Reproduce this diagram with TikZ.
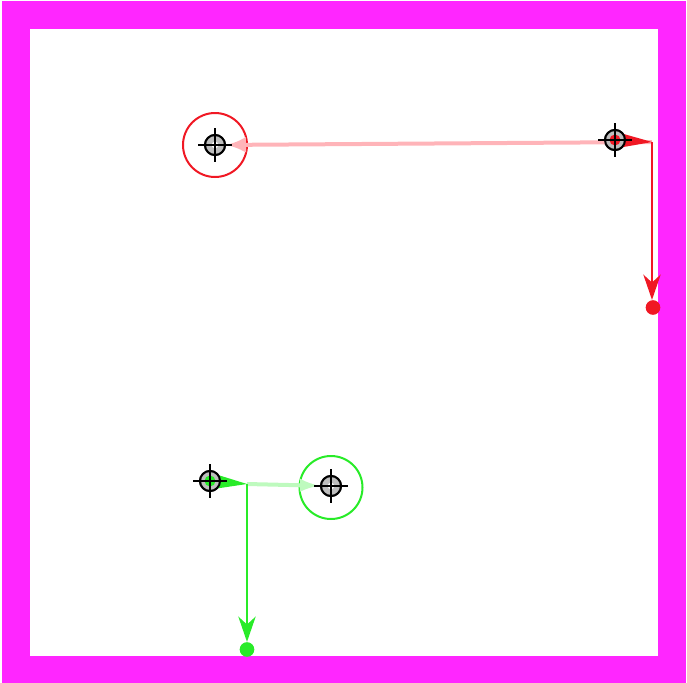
\documentclass[tikz,border=0pt]{standalone}
\usetikzlibrary{arrows.meta,calc}

\tikzset{
  target/.style={circle,draw=black,line width=1.5pt,fill={rgb,255:red,190;green,190;blue,190},minimum size=15pt,inner sep=0pt},
  hair/.style={draw=black,line width=1.5pt},
  enddot/.style={circle,inner sep=0pt,minimum size=11pt}
}

\begin{document}
\begin{tikzpicture}[x=0.75pt,y=0.75pt,yscale=-1,xscale=1]
\useasboundingbox (0,0) rectangle (687,683);

%Shape: Frame
\draw [color={rgb, 255:red, 255; green, 38; blue, 255 }, line width=21pt] (16,14.5) rectangle (672,669.5);

% positions
\coordinate (rgoal) at (215,145);
\coordinate (rstart) at (615,140);
\coordinate (rturn) at (652,142);
\coordinate (ggoal) at (331,486);
\coordinate (gstart) at (210,481);
\coordinate (gturn) at (247,484);

%Shape: Circle (red goal)
\draw [color={rgb, 255:red, 240; green, 24; blue, 36 }, line width=1.5pt] (rgoal) circle [radius=32];
%Shape: Circle (green goal)
\draw [color={rgb, 255:red, 40; green, 235; blue, 40 }, line width=1.5pt] (331,487.5) circle [radius=31.5];

% Targets
\node [target] (rg) at (rgoal) {};
\node [target] (rs) at (rstart) {};
\node [target] (gg) at (ggoal) {};
\node [target] (gs) at (gstart) {};

%Straight Lines (pink)
\draw [color={rgb, 255:red, 255; green, 180; blue, 185 }, line width=3pt, -{Latex[length=15pt,width=12pt]}] (rturn) -- (rg);
%Straight Lines (light green)
\draw [color={rgb, 255:red, 190; green, 250; blue, 190 }, line width=3pt, -{Latex[length=15pt,width=10pt]}] (gturn) -- (gg);

% Dots
\node [enddot, fill={rgb, 255:red, 240; green, 24; blue, 36 }] (rdot) at (653,307.5) {};
\node [enddot, fill={rgb, 255:red, 40; green, 235; blue, 40 }] (gdot) at (247,649.5) {};

%Straight Lines (red down)
\draw [color={rgb, 255:red, 240; green, 24; blue, 36 }, line width=1.5pt, -{Stealth[length=19pt,width=13pt,inset=6pt]}] (rturn) -- (rturn |- rdot.north);
%Straight Lines (green down)
\draw [color={rgb, 255:red, 40; green, 235; blue, 40 }, line width=1.5pt, -{Stealth[length=19pt,width=13pt,inset=6pt]}] (gturn) -- (gturn |- gdot.north);

%Shape: Wedges
\fill [color={rgb, 255:red, 240; green, 24; blue, 36 }] ($(rstart)+(0,-8.5)$) -- (rturn) -- ($(rstart)+(0,8.5)$) -- cycle;
\fill [color={rgb, 255:red, 40; green, 235; blue, 40 }] ($(gstart)+(0,-8.5)$) -- (gturn) -- ($(gstart)+(0,8.5)$) -- cycle;

% Target tops
\draw [target] (rgoal) circle [radius=10];
\draw [target] (rstart) circle [radius=10];
\draw [target] (ggoal) circle [radius=10];
\draw [target] (gstart) circle [radius=10];
\fill [white] (rgoal) circle [radius=3.3];
\fill [white] (ggoal) circle [radius=3.3];
\fill [color={rgb, 255:red, 240; green, 24; blue, 36 }] (rstart) circle [radius=5.5];
\fill [color={rgb, 255:red, 40; green, 235; blue, 40 }] (gstart) circle [radius=5.5];

% Crosshairs
\draw [hair] ($(rgoal)+(-17,0)$) -- ($(rgoal)+(17,0)$) ($(rgoal)+(0,-17)$) -- ($(rgoal)+(0,17)$);
\draw [hair] ($(rstart)+(-17,0)$) -- ($(rstart)+(17,0)$) ($(rstart)+(0,-17)$) -- ($(rstart)+(0,17)$);
\draw [hair] ($(ggoal)+(-17,0)$) -- ($(ggoal)+(17,0)$) ($(ggoal)+(0,-17)$) -- ($(ggoal)+(0,17)$);
\draw [hair] ($(gstart)+(-17,0)$) -- ($(gstart)+(17,0)$) ($(gstart)+(0,-17)$) -- ($(gstart)+(0,17)$);

\end{tikzpicture}
\end{document}
